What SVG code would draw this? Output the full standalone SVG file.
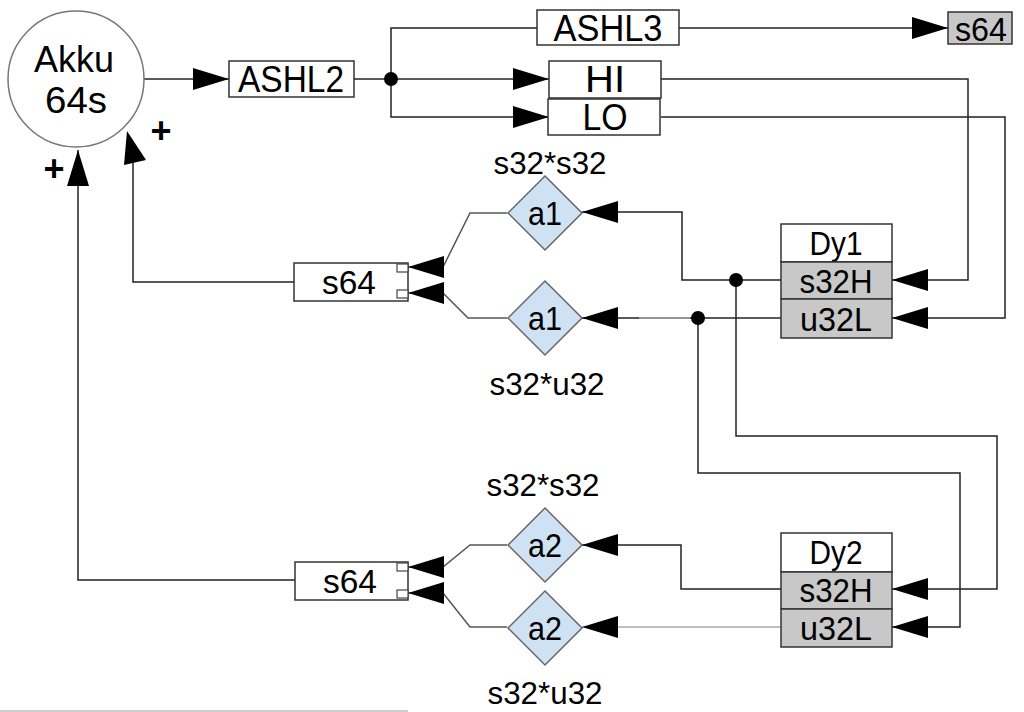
<svg xmlns="http://www.w3.org/2000/svg" width="1024" height="712" viewBox="0 0 1024 712">
<defs>
<marker id="ah" markerUnits="userSpaceOnUse" markerWidth="36" markerHeight="22" refX="36" refY="11" orient="auto">
<path d="M0,0 L36,11 L0,22 Z" fill="#000"/>
</marker>
<style>
text{font-family:"Liberation Sans",Arial,sans-serif;fill:#000;text-anchor:middle}
.box{fill:#fff;stroke:#333;stroke-width:1.5}
.gbox{fill:#c8c8c8;stroke:#333;stroke-width:1.5}
.dia{fill:#cfe2f3;stroke:#666;stroke-width:1.5}
.ln{fill:none;stroke:#222;stroke-width:1.5}
.gl{fill:none;stroke:#555;stroke-width:1.5}
.lg{fill:none;stroke:#aaa;stroke-width:1.5}
.arr{marker-end:url(#ah)}
.t37{font-size:37px}.t34{font-size:34px}.t33{font-size:33px}.t32{font-size:32px}
</style>
</defs>
<rect width="1024" height="712" fill="#fff"/>
<g id="connectors">
<path class="ln arr" d="M143,79 L229,79"/>
<path class="ln" d="M354,79 L391,79"/>
<path class="ln arr" d="M537,28 L391,28 L391,117 L549,117"/>
<path class="ln arr" d="M391,79 L549,79"/>
<path class="ln arr" d="M679,28 L948,28"/>
<path class="ln arr" d="M661,79 L968,79 L968,280 L892,280"/>
<path class="ln arr" d="M661,117 L1005,117 L1005,318 L892,318"/>
<path class="ln arr" d="M781,280 L682,280 L682,212 L582,212"/>
<path class="ln arr" d="M736,280 L736,436 L997,436 L997,589 L892,589"/>
<path class="ln arr" d="M781,318 L582,318"/>
<path class="lg" d="M639,318 L690,318"/>
<path class="ln arr" d="M698,318 L698,473 L960,473 L960,627 L892,627"/>
<path class="ln arr" d="M781,589 L681,589 L681,545 L582,545"/>
<path class="lg arr" d="M781,627 L582,627"/>
<path class="gl arr" d="M507,213 L470,213 L443,267 L408,267"/>
<path class="gl arr" d="M507,318 L468,318 L443,293 L408,293"/>
<path class="gl arr" d="M507,545 L470,545 L443,567 L408,567"/>
<path class="gl arr" d="M507,627 L470,627 L443,593 L408,593"/>
<path class="ln" d="M294,282 L133,282 L133,160"/>
<polygon points="127,131 124,165 146,160" fill="#000"/>
<path class="ln arr" d="M295,580 L78,580 L78,150"/>
<circle cx="391" cy="79" r="7" fill="#000"/>
<circle cx="736" cy="280" r="7" fill="#000"/>
<circle cx="698" cy="318" r="7" fill="#000"/>
<path d="M0,711 L408,711" stroke="#ccc" stroke-width="2"/>
</g>
<g id="akku">
<circle cx="76" cy="79" r="68" fill="#fff" stroke="#777" stroke-width="1.5"/>
<text x="74" y="72" font-size="36" textLength="80" lengthAdjust="spacingAndGlyphs">Akku</text>
<text x="76" y="113" font-size="36" textLength="62" lengthAdjust="spacingAndGlyphs">64s</text>
<text x="54" y="181" font-size="36" font-weight="bold">+</text>
<text x="161" y="143" font-size="36" font-weight="bold">+</text>
</g>
<g id="ashl2"><rect class="box" x="229" y="61" width="125" height="36"/><text class="t37" x="291" y="92" textLength="106" lengthAdjust="spacingAndGlyphs">ASHL2</text></g>
<g id="ashl3"><rect class="box" x="537" y="10" width="142" height="35"/><text class="t37" x="608" y="41" textLength="109" lengthAdjust="spacingAndGlyphs">ASHL3</text></g>
<g id="s64out"><rect class="gbox" x="948" y="12" width="64" height="32"/><text class="t34" x="981" y="41" textLength="52" lengthAdjust="spacingAndGlyphs">s64</text></g>
<g id="hi"><rect class="box" x="549" y="61" width="112" height="37"/><text class="t37" x="605" y="92" textLength="40" lengthAdjust="spacingAndGlyphs">HI</text></g>
<g id="lo"><rect class="box" x="548" y="99" width="112" height="36"/><text class="t37" x="605" y="130" textLength="45" lengthAdjust="spacingAndGlyphs">LO</text></g>
<g id="dy1">
<rect class="box" x="781" y="224" width="111" height="38"/><text class="t33" x="836" y="255" textLength="53" lengthAdjust="spacingAndGlyphs">Dy1</text>
<rect class="gbox" x="781" y="262" width="111" height="37"/><text class="t33" x="836" y="293" textLength="73" lengthAdjust="spacingAndGlyphs">s32H</text>
<rect class="gbox" x="781" y="299" width="111" height="39"/><text class="t33" x="836" y="331" textLength="72" lengthAdjust="spacingAndGlyphs">u32L</text>
</g>
<g id="dy2">
<rect class="box" x="781" y="533" width="111" height="39"/><text class="t33" x="836" y="564" textLength="53" lengthAdjust="spacingAndGlyphs">Dy2</text>
<rect class="gbox" x="781" y="572" width="111" height="37"/><text class="t33" x="836" y="602" textLength="73" lengthAdjust="spacingAndGlyphs">s32H</text>
<rect class="gbox" x="781" y="609" width="111" height="38"/><text class="t33" x="836" y="640" textLength="72" lengthAdjust="spacingAndGlyphs">u32L</text>
</g>
<g id="a1top"><polygon class="dia" points="545,176 582,213 545,250 508,213"/><text class="t33" x="545" y="225" textLength="34" lengthAdjust="spacingAndGlyphs">a1</text><text class="t32" x="550" y="174" textLength="113" lengthAdjust="spacingAndGlyphs">s32*s32</text></g>
<g id="a1bot"><polygon class="dia" points="545,281 582,318 545,355 508,318"/><text class="t33" x="545" y="330" textLength="34" lengthAdjust="spacingAndGlyphs">a1</text><text class="t32" x="547" y="395" textLength="115" lengthAdjust="spacingAndGlyphs">s32*u32</text></g>
<g id="a2top"><polygon class="dia" points="545,508 582,545 545,582 508,545"/><text class="t33" x="545" y="557" textLength="34" lengthAdjust="spacingAndGlyphs">a2</text><text class="t32" x="543" y="496" textLength="113" lengthAdjust="spacingAndGlyphs">s32*s32</text></g>
<g id="a2bot"><polygon class="dia" points="545,591 582,628 545,665 508,628"/><text class="t33" x="545" y="640" textLength="34" lengthAdjust="spacingAndGlyphs">a2</text><text class="t32" x="545" y="704" textLength="115" lengthAdjust="spacingAndGlyphs">s32*u32</text></g>
<g id="s64a">
<rect class="box" x="294" y="263" width="114" height="38"/><text class="t34" x="349" y="294" textLength="54" lengthAdjust="spacingAndGlyphs">s64</text>
<rect x="397" y="264" width="11" height="8" fill="#fff" stroke="#444" stroke-width="1.2"/>
<rect x="397" y="290" width="11" height="8" fill="#fff" stroke="#444" stroke-width="1.2"/>
</g>
<g id="s64b">
<rect class="box" x="295" y="562" width="113" height="38"/><text class="t34" x="350" y="593" textLength="54" lengthAdjust="spacingAndGlyphs">s64</text>
<rect x="397" y="563" width="11" height="8" fill="#fff" stroke="#444" stroke-width="1.2"/>
<rect x="397" y="590" width="11" height="8" fill="#fff" stroke="#444" stroke-width="1.2"/>
</g>
</svg>
